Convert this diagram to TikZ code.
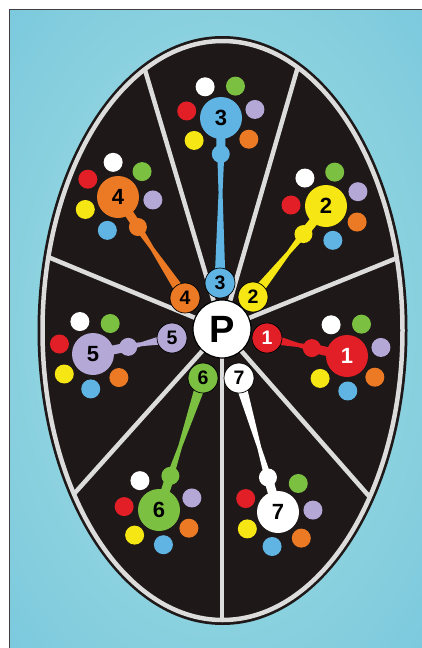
\documentclass[tikz,border=0pt]{standalone}
\usepackage{fontspec}
\setmainfont{Liberation Sans}
\usetikzlibrary{calc}
\definecolor{bgin}{RGB}{152,216,224}
\definecolor{bgout}{RGB}{80,178,218}
\definecolor{cred}{RGB}{226,30,38}
\definecolor{cyel}{RGB}{246,230,20}
\definecolor{cblu}{RGB}{95,180,228}
\definecolor{cora}{RGB}{236,122,36}
\definecolor{clav}{RGB}{180,168,214}
\definecolor{cgre}{RGB}{124,192,66}
\definecolor{cwhi}{RGB}{255,255,255}
\definecolor{ringgray}{RGB}{220,220,220}
\definecolor{inkblack}{RGB}{30,24,24}
\pgfdeclareradialshading{bgshade}{\pgfpoint{0bp}{0bp}}{color(0bp)=(bgin); color(12bp)=(bgin); color(72bp)=(bgout)}
\pgfdeclarelayer{back}
\pgfdeclarelayer{mid}
\pgfsetlayers{back,mid,main}
\begin{document}
\begin{tikzpicture}[x=1pt,y=-1pt,
  dot/.style={circle,inner sep=0pt,minimum size=19pt},
  big/.style={circle,inner sep=0pt,minimum size=42pt,font=\fontsize{22}{22}\selectfont\bfseries},
  small/.style={circle,inner sep=0pt,minimum size=30pt,draw=black,line width=0.7pt,font=\fontsize{19.5}{19.5}\selectfont\bfseries},
  hub/.style={circle,inner sep=0pt,minimum size=58pt,draw=black,line width=1.2pt,fill=white,font=\fontsize{38}{38}\selectfont\bfseries},
  bulb/.style={circle,inner sep=0pt,minimum size=18pt},
  spoke/.style={ringgray,line width=4.5pt},
]
\useasboundingbox (0,0) rectangle (422,648);
% hub and small numbered circles
\node[hub] (P) at (222,329) {P};
\foreach \n/\sx/\sy/\col/\txt in {
  1/267/338/cred/white,
  2/253/297/cyel/black,
  3/220/283/cblu/black,
  4/185/298/cora/black,
  5/172/338/clav/black,
  6/203/378/cgre/black,
  7/239/378/cwhi/black}{
  \node[small,fill=\col,text=\txt] (S\n) at (\sx,\sy) {\n};
}
% background, ellipse, spokes
\begin{pgfonlayer}{back}
  \fill[white] (0,0) rectangle (422,648);
  \shade[shading=bgshade] (9,9) rectangle (422,648);
  \draw[black!75,line width=1pt] (9.5,648) -- (9.5,9.5) -- (422,9.5);
  \fill[inkblack] (222.5,330.5) ellipse [x radius=185pt, y radius=294.5pt];
  \begin{scope}
    \clip (222.5,330.5) ellipse [x radius=181pt, y radius=290.5pt];
    \foreach \px/\py in {145/70, 297/70, 397/258, 368/495, 222/620, 73/495, 48/257}
      \draw[spoke] (P.center) -- ($(P.center)!1.15!(\px,\py)$);
  \end{scope}
  \draw[ringgray,line width=4.5pt] (222.5,330.5) ellipse [x radius=180pt, y radius=289.5pt];
\end{pgfonlayer}
% groups
\foreach \n/\bx/\by/\rot/\own/\col/\txt in {
  1/347/356/0/6/cred/white,
  2/326/206/10/5/cyel/black,
  3/221/118/0/4/cblu/black,
  4/118/197/-19/3/cora/black,
  5/93/354/-5/2/clav/black,
  6/159/510/6/1/cgre/black,
  7/278/512/-11/0/cwhi/black}{
  \node[big,fill=\col,text=\txt] (B\n) at (\bx,\by) {\n};
  \node[bulb,fill=\col] (U\n) at ($(B\n.center)!36pt!(S\n.center)$) {};
  \coordinate (M\n) at ($(U\n.center)!0.3!(S\n.center)$);
  \foreach \k/\dc in {0/cwhi,1/cgre,2/clav,3/cora,4/cblu,5/cyel,6/cred}{
    \ifnum\k=\own\relax\else
      \node[dot,fill=\dc] (D\n-\k) at ($(B\n.center)+({117-\k*51.43+\rot}:35pt)$) {};
    \fi
  }
  \begin{pgfonlayer}{mid}
    \draw[\col,line width=9pt] (B\n.center) -- (U\n.center);
    \fill[\col] ($(S\n.center)!5.5pt!-90:(U\n.center)$)
      -- ($(M\n)!2pt!90:(S\n.center)$)
      -- ($(U\n.center)!3.5pt!90:(S\n.center)$)
      -- ($(U\n.center)!3.5pt!-90:(S\n.center)$)
      -- ($(M\n)!2pt!-90:(S\n.center)$)
      -- ($(S\n.center)!5.5pt!90:(U\n.center)$) -- cycle;
  \end{pgfonlayer}
}
\end{tikzpicture}
\end{document}
